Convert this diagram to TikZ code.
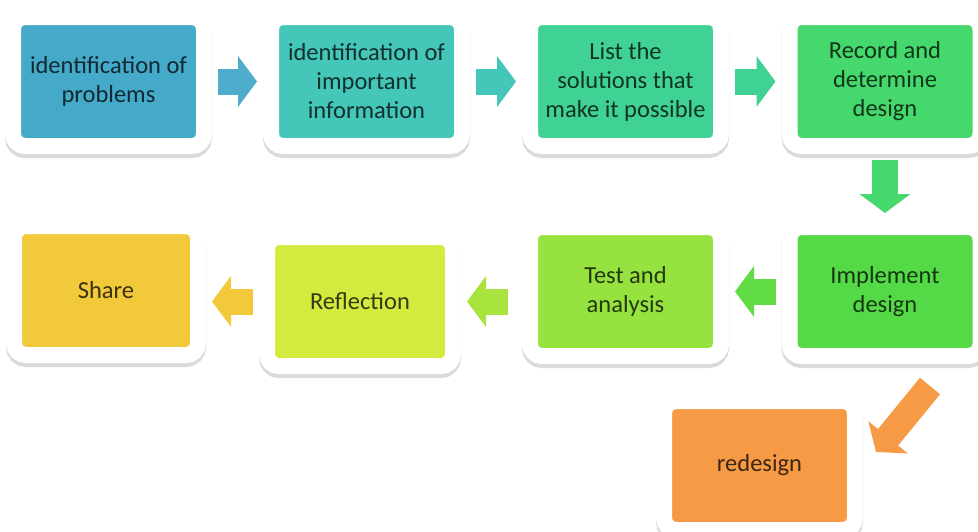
\documentclass[tikz,border=0pt]{standalone}
\usepackage{fontspec}
\setmainfont{Carlito}
\usetikzlibrary{arrows.meta}

\definecolor{cprob}{HTML}{45A9C9}
\definecolor{cinfo}{HTML}{44C6B8}
\definecolor{csol}{HTML}{40D294}
\definecolor{crec}{HTML}{45D86C}
\definecolor{cimpl}{HTML}{55DA47}
\definecolor{ctest}{HTML}{96E23E}
\definecolor{crefl}{HTML}{D5EA3E}
\definecolor{cshare}{HTML}{F2C93A}
\definecolor{credes}{HTML}{F69A45}

\tikzset{
    stepbox/.style={rounded corners=12pt, minimum width=191pt, minimum height=129pt,
        outer sep=0pt, fill=#1, draw=white, line width=16pt, text=#1!25!black,
        align=center, font=\fontsize{24.5}{29}\selectfont,
        preaction={draw=black!14, fill=black!14, line width=16pt, transform canvas={yshift=-4pt}}},
    blockarrow/.style={draw=#1, line width=26pt, -{Triangle[length=19pt,width=50pt]},
        shorten <=14pt, shorten >=14pt}
}

\begin{document}
\begin{tikzpicture}[x=1pt, y=-1pt]
    \path[use as bounding box, fill=white] (0,0) rectangle (978,531);

    \node[stepbox=cprob] (prob) at (108.5,81.5) {identification of\\problems};
    \node[stepbox=cinfo] (info) at (366.5,81.5) {identification of\\important\\information};
    \node[stepbox=csol] (sol) at (625.5,81.5) {List the\\solutions that\\make it possible};
    \node[stepbox=crec] (rec) at (885,81.5) {Record and\\determine\\design};
    \node[stepbox=cimpl] (impl) at (885,291.5) {Implement\\design};
    \node[stepbox=ctest] (test) at (625.5,291.5) {Test and\\analysis};
    \node[stepbox=crefl, minimum width=186pt] (refl) at (360,301.5) {Reflection};
    \node[stepbox=cshare, minimum width=184pt] (share) at (106,290.5) {Share};
    \node[stepbox=credes] (redes) at (759.5,465.5) {redesign};

    \draw[blockarrow=cprob!95!white] (prob) -- (info);
    \draw[blockarrow=cinfo] (info) -- (sol);
    \draw[blockarrow=csol] (sol) -- (rec);
    \draw[blockarrow=crec] (rec) -- (impl);
    \draw[blockarrow=cimpl!80!ctest] (impl) -- (test);
    \draw[blockarrow=ctest!70!crefl, shorten <=22pt] (test.west |- refl.east) -- (refl.east);
    \draw[blockarrow=cshare] (refl.west) -- (refl.west -| share.east);

    \coordinate (d1) at (930,386);
    \coordinate (d2) at (876,452);
    \draw[blockarrow=credes, shorten <=0pt, shorten >=0pt] (d1) -- (d2);
\end{tikzpicture}
\end{document}
